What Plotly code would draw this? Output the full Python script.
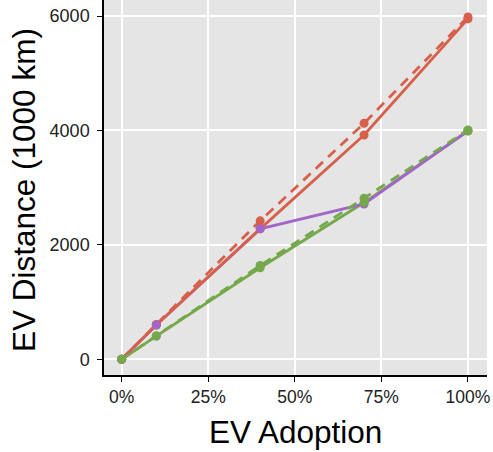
import plotly.graph_objects as go

adoption = [0, 0.10, 0.40, 0.70, 1.00]
red_solid = [0, 600, 2280, 3920, 5950]
red_dashed = [0, 610, 2420, 4125, 5985]
green_solid = [0, 407, 1600, 2740, 3990]
green_dashed = [0, 407, 1640, 2815, 4010]
purple_solid = [0, 600, 2280, 2715, 3995]

x_ticks = [0, 0.25, 0.5, 0.75, 1.0]
x_labels = ["0%", "25%", "50%", "75%", "100%"]
y_ticks = [0, 2000, 4000, 6000]

RED = "#D6604A"
GREEN = "#74A84A"
PURPLE = "#A066C8"
DASH = "10px,7px"

# line layer order (bottom to top)
line_layers = [
    (green_solid, GREEN, "solid"),
    (purple_solid, PURPLE, "solid"),
    (red_solid, RED, "solid"),
    (red_dashed, RED, DASH),
    (green_dashed, GREEN, DASH),
]
# point layer order (bottom to top)
point_layers = [
    (red_solid, RED),
    (red_dashed, RED),
    (purple_solid, PURPLE),
    (green_solid, GREEN),
    (green_dashed, GREEN),
]

fig = go.Figure()
for ys, col, dash in line_layers:
    fig.add_trace(go.Scatter(
        x=adoption, y=ys, mode="lines",
        line=dict(color=col, width=2.8, dash=dash),
        showlegend=False, cliponaxis=False, hoverinfo="skip",
    ))
for ys, col in point_layers:
    fig.add_trace(go.Scatter(
        x=adoption, y=ys, mode="markers",
        marker=dict(color=col, size=9),
        showlegend=False, cliponaxis=False, hoverinfo="skip",
    ))

W, H = 493, 452
L, R, T, B = 104, 6, 0, 77
pw, ph = W - L - R, H - T - B

fig.update_layout(
    width=W, height=H,
    margin=dict(l=L, r=R, t=T, b=B, autoexpand=False),
    paper_bgcolor="white",
    plot_bgcolor="#E5E5E5",
    font=dict(family="Liberation Sans, Arial, sans-serif", color="black"),
    xaxis=dict(
        range=[-0.051, 1.055], tickvals=x_ticks, ticktext=x_labels,
        showgrid=True, gridcolor="white", gridwidth=1.6, zeroline=False,
        showline=True, linecolor="black", linewidth=1.5,
        ticks="outside", ticklen=5, tickcolor="black", tickwidth=1,
        tickfont=dict(size=17.5, color="#222222"), automargin=False,
    ),
    yaxis=dict(
        range=[-274, 6280], tickvals=y_ticks,
        showgrid=True, gridcolor="white", gridwidth=1.6, zeroline=False,
        showline=True, linecolor="black", linewidth=1.5,
        ticks="outside", ticklen=5, tickcolor="black", tickwidth=1,
        tickfont=dict(size=18, color="#222222"), automargin=False,
        ticklabelstandoff=4,
    ),
    annotations=[
        dict(text="EV Adoption", xref="paper", yref="paper",
             x=0.5, y=-(432 - (T + ph)) / ph, xanchor="center", yanchor="middle",
             showarrow=False, font=dict(size=31.5, color="black")),
        dict(text="EV Distance (1000 km)", xref="paper", yref="paper",
             x=(24 - L) / pw, y=1 - (190 - T) / ph, xanchor="center", yanchor="middle",
             textangle=-90, showarrow=False, font=dict(size=31.5, color="black")),
    ],
)

fig.write_html("out.html", config={"displayModeBar": False},
               post_script="document.body.style.margin='0';document.body.style.padding='0';")
